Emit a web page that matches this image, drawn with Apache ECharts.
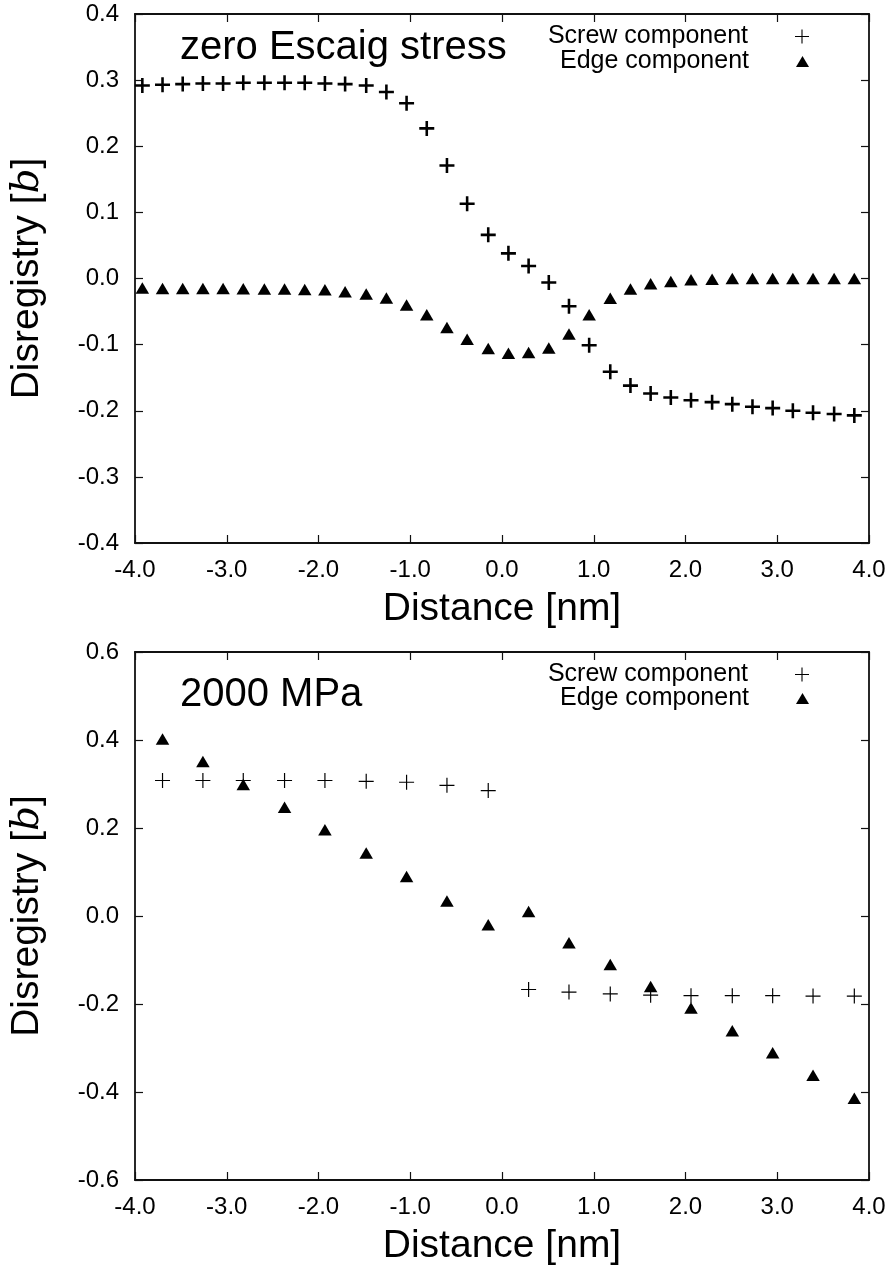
<!DOCTYPE html>
<html>
<head>
<meta charset="utf-8">
<script src="https://cdn.jsdelivr.net/npm/echarts@6/dist/echarts.min.js"></script>
<style>
html,body{margin:0;padding:0;background:#fff;}
#chart{width:891px;height:1268px;}
</style>
</head>
<body>
<div id="chart"></div>
<script>
// ---- Top panel: zero Escaig stress ----
const xTop = [-3.92, -3.70, -3.48, -3.26, -3.04, -2.82, -2.59, -2.37, -2.15, -1.93, -1.71, -1.48,
  -1.26, -1.04, -0.82, -0.60, -0.38, -0.15, 0.07, 0.29, 0.51, 0.73, 0.95, 1.18, 1.40, 1.62,
  1.84, 2.06, 2.29, 2.51, 2.73, 2.95, 3.17, 3.39, 3.62, 3.84];
const screwTop = [0.292, 0.293, 0.294, 0.295, 0.295, 0.296, 0.296, 0.296, 0.296, 0.295, 0.294, 0.292,
  0.282, 0.265, 0.227, 0.171, 0.113, 0.066, 0.038, 0.019, -0.006, -0.042, -0.101, -0.141, -0.162, -0.174,
  -0.180, -0.184, -0.187, -0.190, -0.194, -0.196, -0.200, -0.203, -0.205, -0.207];
const edgeTop = [-0.0145, -0.015, -0.015, -0.015, -0.015, -0.0155, -0.016, -0.016, -0.0165, -0.017, -0.020, -0.0235,
  -0.0295, -0.040, -0.055, -0.074, -0.092, -0.106, -0.113, -0.112, -0.105, -0.084, -0.055, -0.030, -0.016, -0.008,
  -0.0045, -0.002, -0.001, 0.000, 0.000, 0.000, 0.000, 0.000, 0.000, 0.000];

// ---- Bottom panel: 2000 MPa ----
const xBottom = [-3.70, -3.26, -2.82, -2.37, -1.93, -1.48, -1.04, -0.60, -0.15, 0.29, 0.73, 1.18,
  1.62, 2.06, 2.51, 2.95, 3.39, 3.84];
const screwBottom = [0.308, 0.308, 0.308, 0.308, 0.308, 0.306, 0.304, 0.297, 0.285, -0.167, -0.173, -0.177,
  -0.180, -0.181, -0.181, -0.181, -0.182, -0.182];
const edgeBottom = [0.402, 0.351, 0.299, 0.247, 0.196, 0.143, 0.090, 0.034, -0.020, 0.010, -0.061, -0.110,
  -0.160, -0.209, -0.261, -0.311, -0.362, -0.414];

const seriesNames = ['Screw component', 'Edge component'];
const panelLabels = ['zero Escaig stress', '2000 MPa'];
const xTitle = 'Distance [nm]';

const FONT = "'Liberation Sans', Arial, Helvetica, sans-serif";
const PLUS_THICK = 'path://M5.8,0H8.2V5.8H14V8.2H8.2V14H5.8V8.2H0V5.8H5.8Z';
const PLUS_THIN = 'path://M6.45,0H7.55V6.45H14V7.55H7.55V14H6.45V7.55H0V6.45H6.45Z';

function zip(xs, ys) { return xs.map((x, i) => [x, ys[i]]); }
function fmt(v) { if (Math.abs(v) < 1e-9) return '0.0'; return v.toFixed(1); }

const grids = [
  {left: 133, top: 14, width: 736, height: 529},
  {left: 133, top: 652, width: 736, height: 528}
];
const yRanges = [{min: -0.4, max: 0.4, interval: 0.1}, {min: -0.6, max: 0.6, interval: 0.2}];

const lineStyle = {color: '#111', width: 1.8};
const xAxes = [], yAxes = [];
grids.forEach((g, k) => {
  xAxes.push({
    type: 'value', gridIndex: k, position: 'bottom', min: -4, max: 4, interval: 1,
    axisLine: {show: true, onZero: false, lineStyle},
    axisTick: {show: true, inside: true, length: 8, lineStyle: {color: '#111', width: 1.2}},
    axisLabel: {show: true, formatter: fmt, fontSize: 24, color: '#000', fontFamily: FONT, margin: 15},
    splitLine: {show: false},
    name: xTitle, nameLocation: 'middle', nameGap: 47,
    nameTextStyle: {fontSize: 39, color: '#000', fontFamily: FONT}
  });
  xAxes.push({
    type: 'value', gridIndex: k, position: 'top', min: -4, max: 4, interval: 1,
    axisLine: {show: true, onZero: false, lineStyle},
    axisTick: {show: true, inside: true, length: 8, lineStyle: {color: '#111', width: 1.2}},
    axisLabel: {show: false}, splitLine: {show: false}
  });
  const r = yRanges[k];
  yAxes.push({
    type: 'value', gridIndex: k, position: 'left', min: r.min, max: r.max, interval: r.interval,
    axisLine: {show: true, onZero: false, lineStyle},
    axisTick: {show: true, inside: true, length: 8, lineStyle: {color: '#111', width: 1.2}},
    axisLabel: {show: true, formatter: fmt, fontSize: 24, color: '#000', fontFamily: FONT, margin: 16},
    splitLine: {show: false},
    name: 'Disregistry [{i|b}]', nameLocation: 'middle', nameGap: 88, nameRotate: 90,
    nameTextStyle: {fontSize: 39, color: '#000', fontFamily: FONT,
      rich: {i: {fontSize: 39, fontStyle: 'italic', fontFamily: "'DejaVu Serif', 'Liberation Serif', serif", color: '#000'}}}
  });
  yAxes.push({
    type: 'value', gridIndex: k, position: 'right', min: r.min, max: r.max, interval: r.interval,
    axisLine: {show: true, onZero: false, lineStyle},
    axisTick: {show: true, inside: true, length: 8, lineStyle: {color: '#111', width: 1.2}},
    axisLabel: {show: false}, splitLine: {show: false}
  });
});

const series = [
  {name: seriesNames[0], type: 'scatter', xAxisIndex: 0, yAxisIndex: 0, data: zip(xTop, screwTop),
   symbol: PLUS_THICK, symbolSize: 15, itemStyle: {color: '#000', opacity: 1}, silent: true},
  {name: seriesNames[1], type: 'scatter', xAxisIndex: 0, yAxisIndex: 0, data: zip(xTop, edgeTop),
   symbol: 'triangle', symbolSize: [13.5, 11.5], itemStyle: {color: '#000', opacity: 1}, silent: true},
  {name: seriesNames[0], type: 'scatter', xAxisIndex: 2, yAxisIndex: 2, data: zip(xBottom, screwBottom),
   symbol: PLUS_THIN, symbolSize: 15, itemStyle: {color: '#000', opacity: 1}, silent: true},
  {name: seriesNames[1], type: 'scatter', xAxisIndex: 2, yAxisIndex: 2, data: zip(xBottom, edgeBottom),
   symbol: 'triangle', symbolSize: [13.5, 11.5], itemStyle: {color: '#000', opacity: 1}, silent: true}
];

function legendFor(name, icon, top, w, h) {
  return {
    data: [{name: name, icon: icon}], right: 82, top: top, orient: 'vertical', align: 'right',
    itemWidth: w, itemHeight: h, selectedMode: false, padding: 0,
    textStyle: {fontSize: 25, color: '#000', fontFamily: FONT, padding: [0, 42, 0, 0]}
  };
}
const legends = [
  legendFor(seriesNames[0], PLUS_THIN, 24, 14, 14),
  legendFor(seriesNames[1], 'triangle', 49, 13, 11),
  legendFor(seriesNames[0], PLUS_THIN, 662, 14, 14),
  legendFor(seriesNames[1], 'triangle', 686, 13, 11)
];

const titles = [
  {text: panelLabels[0], left: 180, top: 28, padding: 0, textStyle: {fontSize: 40, fontWeight: 'normal', color: '#000', fontFamily: FONT}},
  {text: panelLabels[1], left: 180, top: 675, padding: 0, textStyle: {fontSize: 40, fontWeight: 'normal', color: '#000', fontFamily: FONT}}
];

const chart = echarts.init(document.getElementById('chart'), null, {renderer: 'canvas'});
chart.setOption({
  backgroundColor: '#fff',
  animation: false,
  title: titles,
  legend: legends,
  grid: grids,
  xAxis: xAxes,
  yAxis: yAxes,
  series: series
});
</script>
</body>
</html>
